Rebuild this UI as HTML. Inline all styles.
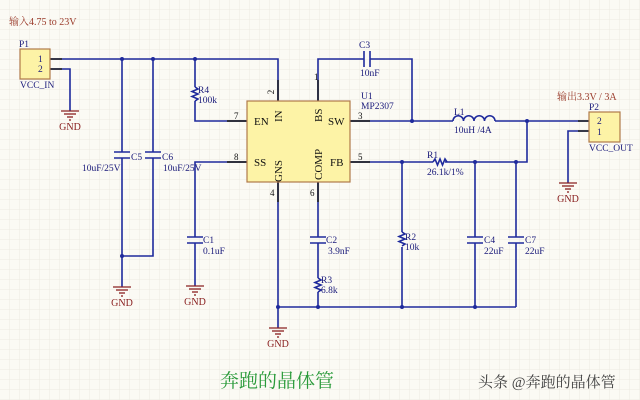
<!DOCTYPE html><html><head><meta charset="utf-8"><style>
body{margin:0;background:#fbfaf4}
svg{display:block}
text{font-family:"Liberation Serif","Noto Serif CJK SC",serif}
</style></head><body>
<svg width="640" height="400" viewBox="0 0 640 400" xmlns="http://www.w3.org/2000/svg">
<defs>
<pattern id="g" width="10" height="10" patternUnits="userSpaceOnUse"><path d="M10 0V10H0" fill="none" stroke="#ecebe2" stroke-width="1"/></pattern>
<g id="gnd" stroke="#8a2020" stroke-width="1.3"><line x1="-9" y1="0" x2="9" y2="0"/><line x1="-6" y1="3" x2="6" y2="3"/><line x1="-3" y1="6" x2="3" y2="6"/><line x1="-1" y1="9" x2="1" y2="9"/></g>
</defs>
<rect width="640" height="400" fill="url(#g)"/>
<g fill="none" stroke="#1f2a9c" stroke-width="1.6">
<!-- top rail -->
<path d="M50 59H278V101"/>
<path d="M50 69H70V111"/>
<path d="M122 59V152M122 158V287"/>
<path d="M153 59V152M153 158V256H122"/>
<path d="M195 59V87M195 101V121H247"/>
<path d="M247 162H195V237M195 243V286"/>
<path d="M318 101V59H364M370 59H412V121"/>
<path d="M350 121H453M495 121H590"/>
<path d="M527 121V162H445M433 162H350"/>
<path d="M590 131H568V183"/>
<path d="M278 182V328"/>
<path d="M318 182V237M318 243V278M318 292V307"/>
<path d="M278 307H516"/>
<path d="M402 162V232M402 247V307"/>
<path d="M475 162V237M475 243V307"/>
<path d="M516 162V237M516 243V307"/>
<!-- caps plates -->
<path d="M114 152H130M114 158H130M145 152H161M145 158H161M187 237H203M187 243H203M310 237H326M310 243H326M467 237H483M467 243H483M508 237H524M508 243H524M364 51V67M370 51V67"/>
<!-- resistors -->
<path d="M195 87l3 2-6 2.5 6 2.5-6 2.5 6 2.5-3 2"/>
<path d="M318 278l3 2-6 2.5 6 2.5-6 2.5 6 2.5-3 2"/>
<path d="M402 232l3 2-6 2.5 6 2.5-6 2.5 6 2.5-3 2"/>
<path d="M433 162l2-3 2.5 6 2.5-6 2.5 6 2.5-6 2 3"/>
<!-- inductor -->
<path d="M453 121a5.25 5.25 0 0 1 10.5 0a5.25 5.25 0 0 1 10.5 0a5.25 5.25 0 0 1 10.5 0a5.25 5.25 0 0 1 10.5 0"/>
</g>
<g stroke="#111" stroke-width="1.4">
<line x1="50" y1="59" x2="62" y2="59"/><line x1="50" y1="69" x2="62" y2="69"/>
<line x1="278" y1="80" x2="278" y2="101"/><line x1="318" y1="80" x2="318" y2="101"/>
<line x1="227" y1="121" x2="247" y2="121"/><line x1="227" y1="162" x2="247" y2="162"/>
<line x1="350" y1="121" x2="370" y2="121"/><line x1="350" y1="162" x2="370" y2="162"/>
<line x1="278" y1="182" x2="278" y2="202"/><line x1="318" y1="182" x2="318" y2="202"/>
<line x1="578" y1="121" x2="590" y2="121"/><line x1="578" y1="131" x2="590" y2="131"/>
</g>
<g fill="#1f2a9c">
<circle cx="122" cy="59" r="2"/><circle cx="153" cy="59" r="2"/><circle cx="195" cy="59" r="2"/>
<circle cx="412" cy="121" r="2"/><circle cx="527" cy="121" r="2"/>
<circle cx="402" cy="162" r="2"/><circle cx="475" cy="162" r="2"/><circle cx="516" cy="162" r="2"/>
<circle cx="122" cy="256" r="2"/><circle cx="278" cy="307" r="2"/><circle cx="318" cy="307" r="2"/><circle cx="402" cy="307" r="2"/><circle cx="475" cy="307" r="2"/>
</g>
<rect x="20" y="49" width="30" height="30" fill="#fdf3a6" stroke="#b07a4a" stroke-width="1.2"/>
<rect x="589" y="112" width="31" height="30" fill="#fdf3a6" stroke="#b07a4a" stroke-width="1.2"/>
<rect x="247" y="101" width="103" height="81" fill="#fdf3a6" stroke="#b07a4a" stroke-width="1.2"/>
<use href="#gnd" x="70" y="111"/><use href="#gnd" x="122" y="287"/><use href="#gnd" x="195" y="286"/>
<use href="#gnd" x="278" y="328"/><use href="#gnd" x="568" y="183"/>
<g fill="#8a2020" font-size="10" text-anchor="middle">
<text x="70" y="130">GND</text><text x="122" y="306">GND</text><text x="195" y="305">GND</text><text x="278" y="347">GND</text><text x="568" y="202">GND</text>
</g>
<g fill="#9a3a2a" font-size="10">
<text x="9" y="25">输入4.75 to 23V</text>
<text x="557" y="100">输出3.3V  / 3A</text>
</g>
<g fill="#1a1a7a" font-size="9.5">
<text x="19" y="47">P1</text><text x="20" y="88">VCC_IN</text>
<text x="38" y="62">1</text><text x="38" y="72">2</text>
<text x="589" y="110">P2</text><text x="589" y="151">VCC_OUT</text>
<text x="597" y="124">2</text><text x="597" y="135">1</text>
<text x="198" y="93">R4</text><text x="198" y="103">100k</text>
<text x="131" y="160">C5</text><text x="82" y="171">10uF/25V</text>
<text x="162" y="160">C6</text><text x="163" y="171">10uF/25V</text>
<text x="203" y="243">C1</text><text x="203" y="254">0.1uF</text>
<text x="359" y="48">C3</text><text x="360" y="76">10nF</text>
<text x="361" y="99">U1</text><text x="361" y="109">MP2307</text>
<text x="454" y="115">L1</text><text x="454" y="133">10uH /4A</text>
<text x="427" y="158">R1</text><text x="427" y="175">26.1k/1%</text>
<text x="326" y="243">C2</text><text x="328" y="254">3.9nF</text>
<text x="321" y="283">R3</text><text x="321" y="293">6.8k</text>
<text x="405" y="240">R2</text><text x="405" y="250">10k</text>
<text x="484" y="243">C4</text><text x="484" y="254">22uF</text>
<text x="525" y="243">C7</text><text x="525" y="254">22uF</text>
</g>
<g fill="#111" font-size="9">
<text x="234" y="119">7</text><text x="234" y="160">8</text><text x="358" y="119">3</text><text x="358" y="160">5</text>
<text x="274" y="92" transform="rotate(-90 274 92)" text-anchor="middle">2</text>
<text x="314" y="80">1</text>
<text x="270" y="196">4</text><text x="310" y="196">6</text>
</g>
<g fill="#111" font-size="11">
<text x="254" y="125">EN</text><text x="254" y="166">SS</text><text x="328" y="125">SW</text><text x="330" y="166">FB</text>
<text transform="translate(282 122) rotate(-90)">IN</text>
<text transform="translate(322 122) rotate(-90)">BS</text>
<text transform="translate(282 182) rotate(-90)">GNS</text>
<text transform="translate(322 180) rotate(-90)">COMP</text>
</g>
<text x="277" y="387" fill="#2a9a3a" font-size="19" text-anchor="middle" font-family="'Noto Serif CJK SC',serif">奔跑的晶体管</text>
<text x="478" y="387" fill="#444" font-size="15" font-family="'Noto Sans CJK SC',sans-serif">头条 @奔跑的晶体管</text>
</svg>
</body></html>
